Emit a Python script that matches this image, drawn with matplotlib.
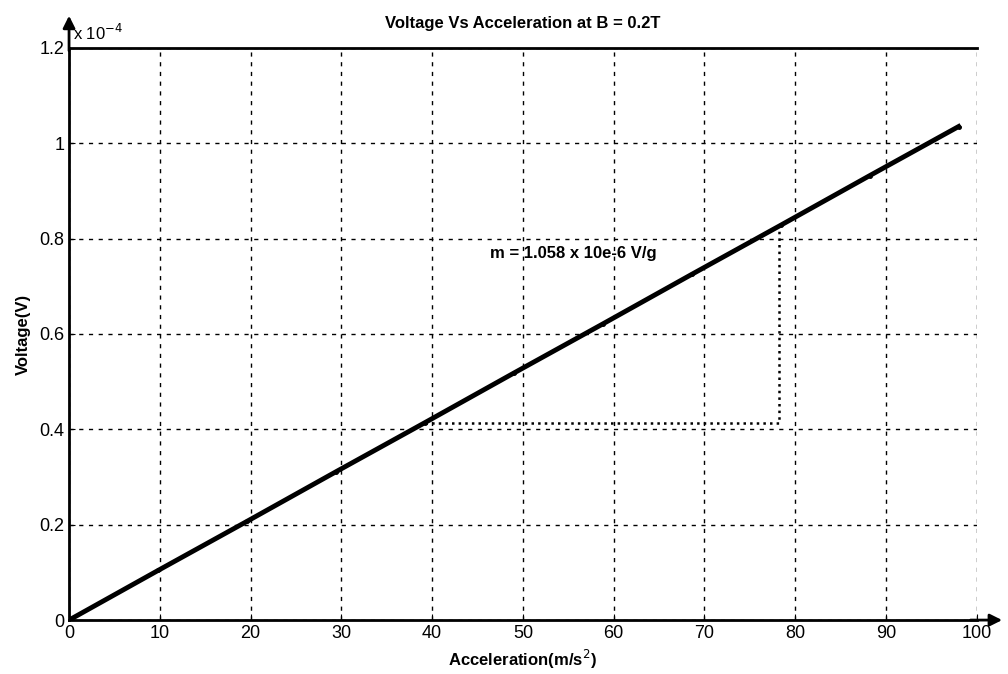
import matplotlib.pyplot as plt
from matplotlib.ticker import FuncFormatter

plt.rcParams['font.family'] = ['Liberation Sans', 'DejaVu Sans']

# acceleration in m/s^2 (steps of 1 g), voltage in V
accel = [0, 9.8, 19.6, 29.4, 39.2, 49.0, 58.8, 68.6, 78.4, 88.2, 98.0]
voltage = [0, 0.104e-4, 0.207e-4, 0.311e-4, 0.414e-4, 0.518e-4,
           0.621e-4, 0.725e-4, 0.828e-4, 0.932e-4, 1.035e-4]

# slope triangle corners
tri_x = [39.2, 78.2, 78.2]
tri_y = [0.413e-4, 0.413e-4, 0.826e-4]

fig = plt.figure(figsize=(10.08, 6.74), dpi=100)
ax = fig.add_axes([0.0685, 0.080, 0.9005, 0.849])
ax.set_axisbelow(True)

ax.plot(accel, voltage, color='black', lw=3.5, marker='.', ms=5)
ax.plot(tri_x, tri_y, color='black', lw=1.8, ls=':')

ax.set_xlim(0, 100)
ax.set_ylim(0, 1.2e-4)
ax.set_xticks(range(0, 101, 10))
ax.set_yticks([0, 0.2e-4, 0.4e-4, 0.6e-4, 0.8e-4, 1.0e-4, 1.2e-4])
ax.yaxis.set_major_formatter(FuncFormatter(lambda v, p: '%g' % round(v / 1e-4, 2)))
ax.tick_params(direction='in', length=4, labelsize=13, colors='black')
ax.grid(True, color='black', ls=(0, (3, 4)), lw=1.0)

ax.spines['right'].set_visible(False)
for s in ['left', 'bottom', 'top']:
    ax.spines[s].set_linewidth(2.0)
    ax.spines[s].set_zorder(5)

# axis arrows
ax.annotate('', xy=(1.031, 0), xycoords='axes fraction', xytext=(0.99, 0),
            arrowprops=dict(arrowstyle='-|>', color='black', lw=2.0, mutation_scale=18))
ax.annotate('', xy=(0, 1.061), xycoords='axes fraction', xytext=(0, 0.99),
            arrowprops=dict(arrowstyle='-|>', color='black', lw=2.0, mutation_scale=18))

ax.text(0.004, 1.008, r'x 10$^{-4}$', transform=ax.transAxes, fontsize=12, va='bottom')
ax.text(46.4, 0.76e-4, 'm = 1.058 x 10e-6 V/g', fontsize=12, fontweight='bold')

ax.set_title('Voltage Vs Acceleration at B = 0.2T', fontsize=12, fontweight='bold', pad=14)
ax.set_xlabel('Acceleration(m/s$^2$)', fontsize=12, fontweight='bold', labelpad=4)
ax.set_ylabel('Voltage(V)', fontsize=12, fontweight='bold', labelpad=6)

fig.savefig('out.png', dpi=100)
